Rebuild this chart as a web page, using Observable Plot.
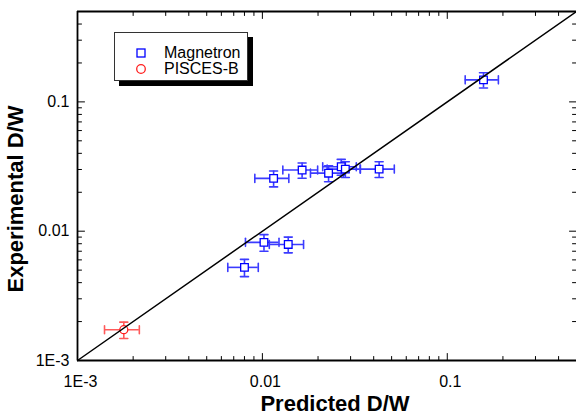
<!DOCTYPE html>
<html><head><meta charset="utf-8">
<script src="https://cdn.jsdelivr.net/npm/d3@7"></script>
<script src="https://cdn.jsdelivr.net/npm/@observablehq/plot@0.6"></script>
<style>
html,body{margin:0;padding:0;background:#fff;overflow:hidden;}
#wrap{position:relative;width:576px;height:415px;font-family:"Liberation Sans",Arial,sans-serif;}
#legend{position:absolute;left:114px;top:32px;width:132px;height:47px;border:1px solid #333;background:#fff;box-shadow:5px 5px 0 #000;}
#legend .row{position:absolute;left:0;height:16px;font-size:16px;line-height:16px;color:#000;}
#legend .row svg{position:absolute;left:20px;top:2px;}
#legend .row span{position:absolute;left:49px;top:0;white-space:nowrap;}
</style></head>
<body><div id="wrap"></div>
<script>
// ---- data ----
const magX    = [0.0115, 0.0164, 0.0228, 0.0267, 0.0281, 0.0428, 0.0102, 0.0138, 0.0080, 0.157];
const magY    = [0.0256, 0.0297, 0.0281, 0.0315, 0.0302, 0.0302, 0.0082, 0.0079, 0.00525, 0.148];
const magXErr = [0.0024, 0.0035, 0.0046, 0.0055, 0.0057, 0.0089, 0.0021, 0.0029, 0.0015, 0.032];
const magYErr = [0.0036, 0.0040, 0.0040, 0.0044, 0.0042, 0.0042, 0.0012, 0.0011, 0.0008, 0.020];
const pisX    = [0.00178];
const pisY    = [0.00173];
const pisXErr = [0.00038];
const pisYErr = [0.00025];
const seriesNames = ["Magnetron", "PISCES-B"];
const tickValues = [0.001, 0.01, 0.1];
const tickLabels = ["1E-3", "0.01", "0.1"];
const axisDomain = [0.001, 0.5];
const xTitle = "Predicted D/W";
const yTitle = "Experimental D/W";

const blue = "#0000ff", blueBar = "#3b3bff";
const red = "#ff2020", redBar = "#ff5a5a";

const rows = (xs, ys, xe, ye, s) => xs.map((x, i) => ({x, y: ys[i], xe: xe[i], ye: ye[i], s}));
const mag = rows(magX, magY, magXErr, magYErr, seriesNames[0]);
const pis = rows(pisX, pisY, pisXErr, pisYErr, seriesNames[1]);
const all = mag.concat(pis);
const barColor = d => d.s === seriesNames[0] ? blueBar : redBar;

const minor = [];
for (const base of [0.001, 0.01, 0.1]) for (let k = 2; k <= 9; k++) { const v = +(base * k).toPrecision(3); if (v < axisDomain[1]) minor.push(v); }
const tickLabelRows = tickValues.map((v, i) => ({v, label: tickLabels[i]}));

const lineShape = {draw(ctx, l) { ctx.moveTo(0, 0); ctx.lineTo(0, -l); }};
const tk = (data, ch, anchor, rot, len) => Plot.vector(data, {[ch]: d => d, frameAnchor: anchor, rotate: rot, length: len, anchor: "start", shape: lineShape, stroke: "black", strokeWidth: 1});

const plot = Plot.plot({
  width: 576, height: 415,
  marginLeft: 77, marginRight: 0, marginTop: 11, marginBottom: 55,
  style: {fontFamily: '"Liberation Sans", Arial, sans-serif', background: "transparent"},
  x: {type: "log", domain: axisDomain, axis: null},
  y: {type: "log", domain: axisDomain, axis: null},
  marks: [
    // error bars
    Plot.ruleY(all, {y: "y", x1: d => d.x - d.xe, x2: d => d.x + d.xe, stroke: barColor, strokeWidth: 1.6}),
    Plot.ruleX(all, {x: "x", y1: d => d.y - d.ye, y2: d => d.y + d.ye, stroke: barColor, strokeWidth: 1.6}),
    Plot.vector(all, {x: d => d.x - d.xe, y: "y", length: 8, rotate: 0, anchor: "middle", shape: lineShape, stroke: barColor, strokeWidth: 1.6}),
    Plot.vector(all, {x: d => d.x + d.xe, y: "y", length: 8, rotate: 0, anchor: "middle", shape: lineShape, stroke: barColor, strokeWidth: 1.6}),
    Plot.vector(all, {x: "x", y: d => d.y - d.ye, length: 8, rotate: 90, anchor: "middle", shape: lineShape, stroke: barColor, strokeWidth: 1.6}),
    Plot.vector(all, {x: "x", y: d => d.y + d.ye, length: 8, rotate: 90, anchor: "middle", shape: lineShape, stroke: barColor, strokeWidth: 1.6}),
    // markers
    Plot.dot(mag, {x: "x", y: "y", symbol: "square", r: 4.3, stroke: blue, fill: "white", strokeWidth: 1.3}),
    Plot.dot(pis, {x: "x", y: "y", symbol: "circle", r: 4, stroke: red, fill: "white", strokeWidth: 1.3}),
    // y = x line
    Plot.line(axisDomain, {x: d => d, y: d => d, stroke: "black", strokeWidth: 1.5}),
    // frame
    Plot.ruleX([axisDomain[0]], {stroke: "black", strokeWidth: 1.8}),
    Plot.ruleY([axisDomain[0]], {stroke: "black", strokeWidth: 1.8}),
    Plot.ruleY([axisDomain[1]], {stroke: "black", strokeWidth: 1.8}),
    // ticks (inward, all four sides)
    tk(tickValues, "x", "bottom", 0, 7), tk(minor, "x", "bottom", 0, 4),
    tk(tickValues, "x", "top", 180, 7), tk(minor, "x", "top", 180, 4),
    tk(tickValues, "y", "left", 90, 7), tk(minor, "y", "left", 90, 4),
    tk(tickValues, "y", "right", -90, 7), tk(minor, "y", "right", -90, 4),
    // tick labels
    Plot.text(tickLabelRows, {x: "v", text: "label", frameAnchor: "bottom", lineAnchor: "top", dy: 15, dx: 3, fontSize: 16, fill: "black"}),
    Plot.text(tickLabelRows, {y: "v", text: "label", frameAnchor: "left", textAnchor: "end", dx: -8, fontSize: 16, fill: "black"}),
    // axis titles
    Plot.text([xTitle], {text: d => d, frameAnchor: "bottom", textAnchor: "middle", lineAnchor: "top", dy: 35, dx: 8, fontSize: 22, fontWeight: "bold", fill: "black"}),
    Plot.text([yTitle], {text: d => d, frameAnchor: "left", textAnchor: "middle", rotate: -90, dx: -62, dy: 13, fontSize: 22, fontWeight: "bold", fill: "black"})
  ]
});

const wrap = document.getElementById("wrap");
wrap.appendChild(plot);

// legend (inside the plot area, top-left)
const legend = document.createElement("div");
legend.id = "legend";
legend.innerHTML = `
  <div class="row" style="top:12px"><svg width="12" height="12"><rect x="2" y="2" width="8" height="8" fill="white" stroke="${blue}" stroke-width="1.3"/></svg><span>${seriesNames[0]}</span></div>
  <div class="row" style="top:28px"><svg width="12" height="12"><circle cx="6" cy="6" r="4.3" fill="white" stroke="${red}" stroke-width="1.3"/></svg><span>${seriesNames[1]}</span></div>`;
wrap.appendChild(legend);
</script>
</body></html>
